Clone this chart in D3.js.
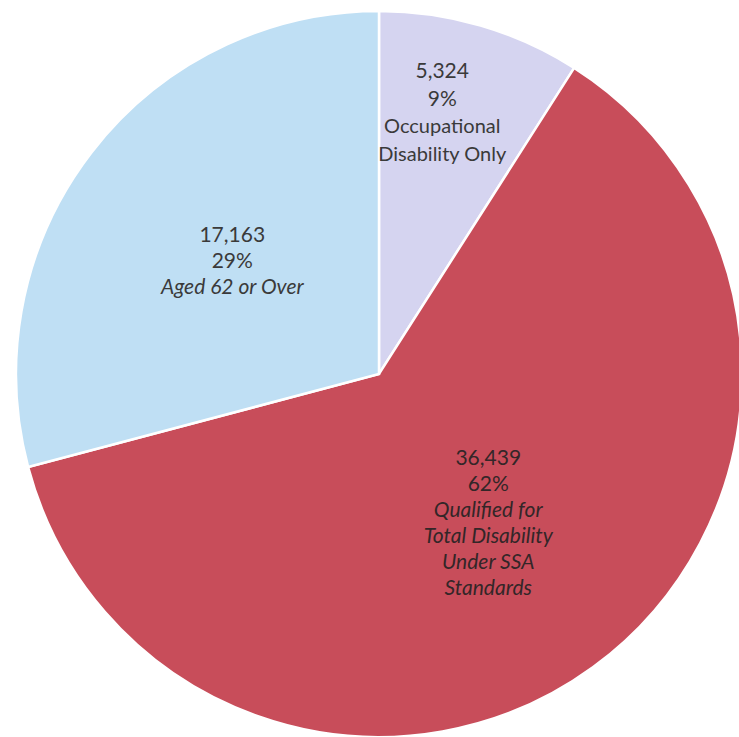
<!DOCTYPE html>
<html>
<head>
  <meta charset="utf-8">
  <title>Disability Pie</title>
  <script src="https://d3js.org/d3.v7.min.js"></script>
  <style>
    body { margin: 0; background: #fff; }
    svg { display: block; }
  </style>
</head>
<body>
  <div id="chart"></div>
  <script>
    // chart data
    var categories = ["Occupational Disability Only", "Qualified for Total Disability Under SSA Standards", "Aged 62 or Over"];
    var values = [5324, 36439, 17163];
    var labelLines = [
      ["Occupational", "Disability Only"],
      ["Qualified for", "Total Disability", "Under SSA", "Standards"],
      ["Aged 62 or Over"]
    ];
    var colors = ["#d5d4f0", "#c84d5a", "#bfdff4"];

    var width = 739, height = 737;
    var cx = 379, cy = 374, r = 363;

    var svg = d3.select("#chart").append("svg")
      .attr("width", width)
      .attr("height", height);

    var g = svg.append("g").attr("transform", "translate(" + cx + "," + cy + ")");

    var data = values.map(function (v, i) {
      return { name: categories[i], value: v, lines: labelLines[i], color: colors[i] };
    });

    var pie = d3.pie().sort(null).value(function (d) { return d.value; });
    var arcs = pie(data);
    var total = d3.sum(values);

    var arc = d3.arc().innerRadius(0).outerRadius(r);

    g.selectAll("path")
      .data(arcs)
      .enter()
      .append("path")
      .attr("d", arc)
      .attr("fill", function (d) { return d.data.color; })
      .attr("stroke", "#fff")
      .attr("stroke-width", 2.5)
      .attr("stroke-linejoin", "miter");

    // label radius: small slice label sits further out (like Excel's best fit)
    function labelPos(d, i) {
      var lr = i === 0 ? r * 0.75 : r * 0.51;
      var a = (d.startAngle + d.endAngle) / 2;
      var x = Math.sin(a) * lr, y = -Math.cos(a) * lr;
      if (i === 0) x -= 13;
      return [x, y];
    }

    var fmtNum = d3.format(",");
    var fmtPct = d3.format(".0%");
    var lh = 26;

    arcs.forEach(function (d, i) {
      var p = labelPos(d, i);
      var lines = [fmtNum(d.data.value), fmtPct(d.data.value / total)].concat(d.data.lines);
      var step = i === 0 ? 27.5 : lh;
      var y0 = p[1] - (lines.length - 1) * step / 2 + 7;
      var t = g.append("text")
        .attr("text-anchor", "middle")
        .attr("font-family", "Lato, 'Open Sans', sans-serif")
        .attr("fill", i === 1 ? "#332628" : "#3a3a3a");
      lines.forEach(function (s, j) {
        var it = j >= 2 && i !== 0;
        t.append("tspan")
          .attr("x", p[0])
          .attr("y", y0 + j * step)
          .attr("font-size", j < 2 ? 21 : (it ? 21 : 20))
          .attr("font-style", it ? "italic" : "normal")
          .text(s);
      });
    });
  </script>
</body>
</html>
